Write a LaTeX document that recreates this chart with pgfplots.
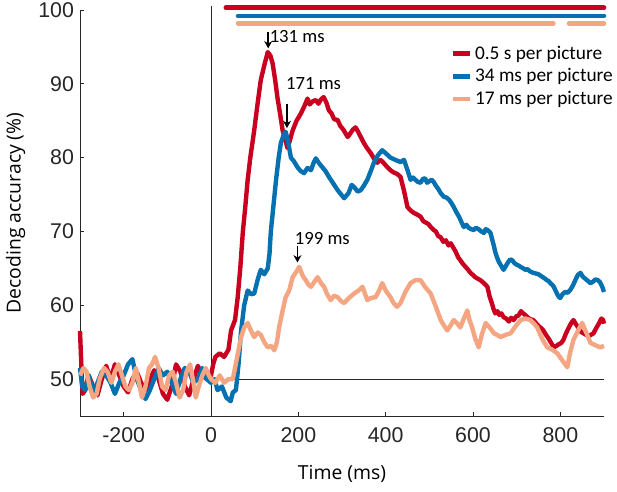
\documentclass[border=0pt]{standalone}
\usepackage{pgfplots}
\pgfplotsset{compat=1.18}
\usepackage{fontspec}
\usetikzlibrary{arrows.meta}
\setmainfont{Open Sans}
\newfontfamily\arialf{Liberation Sans}
\newfontfamily\calib{Carlito}
\definecolor{cred}{HTML}{CA0020}
\definecolor{cblue}{HTML}{0571B0}
\definecolor{corange}{HTML}{F4A582}
\definecolor{axgray}{HTML}{262626}
\begin{document}
\begin{tikzpicture}
\useasboundingbox (-60pt,-57pt) rectangle (402.75pt,312pt);
\begin{axis}[
  scale only axis, width=393pt, height=304.5pt,
  xmin=-300, xmax=900, ymin=45, ymax=100,
  axis x line*=bottom, axis y line*=left,
  axis line style={axgray, line width=0.6pt},
  xtick={-200,0,200,400,600,800},
  ytick={50,60,70,80,90,100},
  tick align=inside, major tick length=3pt,
  tick style={axgray, line width=0.6pt},
  tick label style={font=\arialf\fontsize{16}{16}\selectfont, text=axgray},
  /pgf/number format/assume math mode=true,
  xticklabel style={yshift=-5pt},
  yticklabel style={xshift=-1pt},
  xlabel={Time (ms)}, ylabel={Decoding accuracy (\%)},
  label style={font=\fontsize{14.5}{14.5}\selectfont, text=black},
  xlabel style={yshift=-10pt},
  ylabel style={yshift=3pt},
  clip=false,
  legend cell align=left,
  legend style={draw=none, fill=none, at={(1.03,0.925)}, anchor=north east,
    font=\calib\fontsize{14.5}{14.5}\selectfont, row sep=1.5pt},
  legend image code/.code={\draw[line width=3.3pt,#1] (0pt,0pt) -- (13pt,0pt);},
  every axis plot/.append style={line width=3.3pt, line join=round},
]
% reference lines
\addplot[forget plot, axgray, line width=0.6pt] coordinates {(0,45) (0,100.5)};
\addplot[forget plot, axgray, line width=0.6pt] coordinates {(0,50) (900,50)};
% data
\addplot[cred] coordinates {
(-300,56.5) (-297,52) (-294,48) (-288,48.5) (-280,50.5) (-270,49) (-260,47.8) (-250,50) (-240,51.8) (-230,50)
(-220,52) (-210,50.5) (-200,49) (-190,48.2) (-180,50) (-170,51) (-160,49.5) (-150,48.5) (-140,50) (-130,51.2)
(-120,50) (-110,48) (-100,47.2) (-90,49) (-80,52) (-70,51) (-60,49) (-50,47.8) (-40,50) (-30,51.8)
(-20,50.5) (-10,50) (0,50.5) (5,52) (10,53) (20,53.5) (30,53) (40,54) (46,56.6) (55,58)
(61,61) (67,65) (73,70) (78,73) (84,77) (90,80) (99,83.7) (106,87) (114,90.5) (122,92.5)
(130,94.3) (136,93.8) (141,92.8) (147,90.5) (152,88.2) (158,86) (164,83.7) (170,82.5) (175,81.3) (181,82.4)
(187,83.7) (196,85) (206,86) (214,87) (221,88) (226,87.2) (232,87.6) (240,87.8) (246,87.3) (252,87.9)
(258,88.2) (264,87.5) (270,86.4) (276,86) (282,85.2) (290,85.1) (296,84.3) (303,83.8) (313,82.8) (318,83.2)
(325,83.8) (331,84.1) (337,83.5) (343,82.8) (349,82.1) (355,81.5) (361,81) (366,80.6) (374,79.8) (381,79.3)
(387,79.7) (392,79.5) (398,79.1) (404,78.7) (411,78.3) (418,78) (426,77.8) (434,77.4) (442,75.5) (450,73.3)
(458,72.8) (465,72.5) (472,72.3) (480,72) (486,71.4) (492,71.2) (498,71) (503,70.6) (510,70.2) (515,70)
(520,69.4) (526,69.2) (532,68.6) (538,68.8) (544,68.1) (549,68.4) (555,67.8) (560,67.3) (566,66.5) (571,66.1)
(577,65.6) (583,65.2) (589,64.8) (594,64.4) (600,64.1) (605,63.8) (611,63.6) (617,63.4) (625,63) (633,62.5)
(638,61.2) (642,60.5) (647,59.5) (651,58.9) (656,59.2) (660,58.7) (665,58.9) (670,58.4) (676,58.2) (682,57.8)
(687,58.3) (693,58) (699,58.5) (704,58.6) (710,59.2) (715,58.9) (721,58.6) (726,58.3) (732,58.1) (738,58)
(744,57.6) (750,57.2) (756,56.9) (761,56.6) (767,56) (773,55.5) (779,54.9) (785,54.3) (791,54.5) (796,54.7)
(802,54.9) (807,55.3) (813,56.2) (818,56.8) (824,57.5) (830,58) (836,57.4) (841,57) (847,56.4) (853,56.2)
(859,56) (865,55.8) (870,56) (876,56.2) (882,56.9) (888,57.5) (894,58.2) (898,58) (900,57.5)
};
\addlegendentry{0.5 s per picture}
\addplot[cblue] coordinates {
(-300,51.5) (-295,49) (-288,48.5) (-280,50.5) (-270,48.3) (-260,49.5) (-250,51) (-240,50.5) (-230,49.5) (-220,48)
(-210,49.5) (-200,50.5) (-190,52) (-180,52.7) (-170,50) (-160,48.5) (-150,47.3) (-140,48.5) (-130,50) (-120,51.5)
(-110,50.5) (-100,51) (-90,49.5) (-80,48) (-70,50) (-60,51.5) (-50,51) (-40,49.5) (-30,50) (-20,51.5)
(-10,50) (0,49.5) (8,50) (15,48.5) (25,49) (35,47.5) (45,47) (50,48.2) (57,48.5) (63,52)
(69,56.6) (76,60) (84,62) (92,61.5) (99,61.6) (107,63.5) (114,64.8) (122,64.2) (130,65) (134,67)
(137,70) (143,73.5) (149,77) (155,80) (160,82) (166,83) (171,83.5) (177,82) (183,80) (190,79.5)
(198,78.7) (205,78.2) (213,77.9) (221,78.6) (229,78.3) (235,79.3) (240,79.9) (248,79.2) (255,78.7) (262,78.2)
(270,77.4) (280,76.5) (290,75.6) (298,75) (305,74.5) (315,75.2) (322,76.3) (328,76) (336,75.4) (343,75.6)
(350,76.2) (358,77) (366,78.2) (373,79.3) (382,80.3) (392,81) (400,80.6) (411,80) (422,79.7) (434,79.4)
(442,79.7) (450,78.3) (457,77) (463,77.3) (468,77) (474,76.7) (480,76.6) (485,77.1) (490,77.2) (495,76.6)
(500,76.8) (505,77) (510,76.7) (515,76.2) (520,75.8) (526,75.2) (533,74.7) (539,74.6) (545,74.3) (550,73.9)
(556,73.3) (562,72.6) (568,72) (574,71.2) (579,70.6) (585,70.9) (590,70.5) (596,70.3) (602,70.2) (607,70.5)
(613,70.3) (619,70) (625,69.8) (629,70.3) (633,70.2) (637,70) (640,69.8) (644,68.9) (648,68) (651,67.2)
(655,66.5) (659,65.9) (663,65.5) (667,65.1) (670,64.8) (675,65.3) (680,65.8) (685,66.2) (690,66.1) (695,65.7)
(700,65.5) (704,65.4) (709,65.2) (715,65) (720,64.8) (725,64.9) (730,64.6) (734,64.5) (738,64.4) (744,64.3)
(750,64.2) (755,64) (760,63.8) (765,63.6) (769,63.4) (773,63.3) (777,63) (781,62.8) (785,62.5) (789,62)
(793,61.5) (797,61.1) (800,61) (805,61.5) (811,61.8) (817,61.7) (823,62.1) (829,62.7) (835,63.5) (840,64.1)
(846,64.4) (851,63.9) (857,63.6) (863,63.3) (869,63) (875,63.2) (880,63.5) (886,63.4) (891,63.1) (896,62.5) (900,61.8)
};
\addlegendentry{34 ms per picture}
\addplot[corange] coordinates {
(-300,50.5) (-292,51.5) (-285,51) (-278,49) (-270,47.5) (-262,48) (-255,50) (-245,51.5) (-237,51) (-228,49.5)
(-220,51) (-212,52) (-204,50.5) (-196,49) (-188,48.5) (-180,49.5) (-172,51.5) (-165,49.5) (-158,47.5) (-150,49)
(-142,51.5) (-135,52) (-128,53) (-120,51.5) (-112,49) (-104,48.5) (-96,50.5) (-88,51) (-80,49.5) (-72,47.5)
(-64,48.5) (-56,51) (-48,52) (-40,49.5) (-35,47.5) (-28,49) (-20,50.5) (-12,51.5) (-5,50.5) (0,50)
(10,49.5) (20,50.5) (30,49.5) (40,50) (50,50) (60,53) (69,55.7) (76,57) (84,57.6) (92,56.5)
(99,55.7) (107,56.3) (114,56) (122,55) (130,54.3) (138,54.5) (145,53.9) (151,55) (156,57) (163,59)
(171,61.1) (179,62) (187,63.8) (195,64.5) (202,65.2) (210,64) (217,63.4) (223,62.8) (229,62.5) (237,63.2)
(244,63.8) (252,63) (259,62.5) (266,61.5) (274,60.7) (282,61.3) (290,61.1) (297,60.6) (305,60.3) (316,61)
(328,61.6) (338,62) (347,62.5) (353,61.5) (358,60.7) (367,61) (377,61.1) (385,62) (392,63) (400,62)
(411,61.1) (418,60.3) (426,59.8) (434,60.3) (445,61.8) (457,63) (468,63.4) (480,63.4) (490,62.5) (503,61.6)
(515,59.8) (526,58) (534,57.2) (541,56.6) (548,57.2) (556,58) (563,57.6) (571,57) (579,58.2) (587,59.3)
(592,58) (598,57) (605,55.5) (613,54.3) (620,56) (629,57.6) (638,57) (648,56.2) (655,56) (663,55.7)
(675,56) (686,56.2) (698,57.2) (709,58) (720,58.2) (731,58) (740,57.5) (747,57) (758,55.5) (770,54.3)
(781,54) (793,53.5) (805,52.5) (816,51.6) (822,53.5) (830,55.3) (840,56.5) (850,57.6) (860,56.2) (869,54.9)
(880,54.6) (891,54.3) (900,54.5)
};
\addlegendentry{17 ms per picture}
% significance bars
\addplot[forget plot, cred, line width=3.5pt, line cap=round] coordinates {(34,100.3) (900,100.3)};
\addplot[forget plot, cblue, line width=3.5pt, line cap=round] coordinates {(62,99.2) (900,99.2)};
\addplot[forget plot, corange, line width=3.5pt, line cap=round] coordinates {(62,98.2) (784,98.2)};
\addplot[forget plot, corange, line width=3.5pt, line cap=round] coordinates {(820,98.2) (900,98.2)};
% annotations
\draw[black, line width=1.4pt, -{Stealth[length=5.5pt,width=6pt]}] (axis cs:131,97.0) -- (axis cs:131,94.8);
\node[anchor=west, inner sep=0pt, font=\calib\fontsize{14}{14}\selectfont] at (axis cs:134,96.4) {131 ms};
\draw[black, line width=1.4pt, -{Stealth[length=5.5pt,width=6pt]}] (axis cs:174,87.3) -- (axis cs:174,84.0);
\node[inner sep=0pt, font=\calib\fontsize{14}{14}\selectfont] at (axis cs:235,90.1) {171 ms};
\draw[black, line width=1.4pt, -{Stealth[length=5.5pt,width=6pt]}] (axis cs:198,68.0) -- (axis cs:198,65.8);
\node[inner sep=0pt, font=\calib\fontsize{14}{14}\selectfont] at (axis cs:255,69.1) {199 ms};
\end{axis}
\end{tikzpicture}
\end{document}
